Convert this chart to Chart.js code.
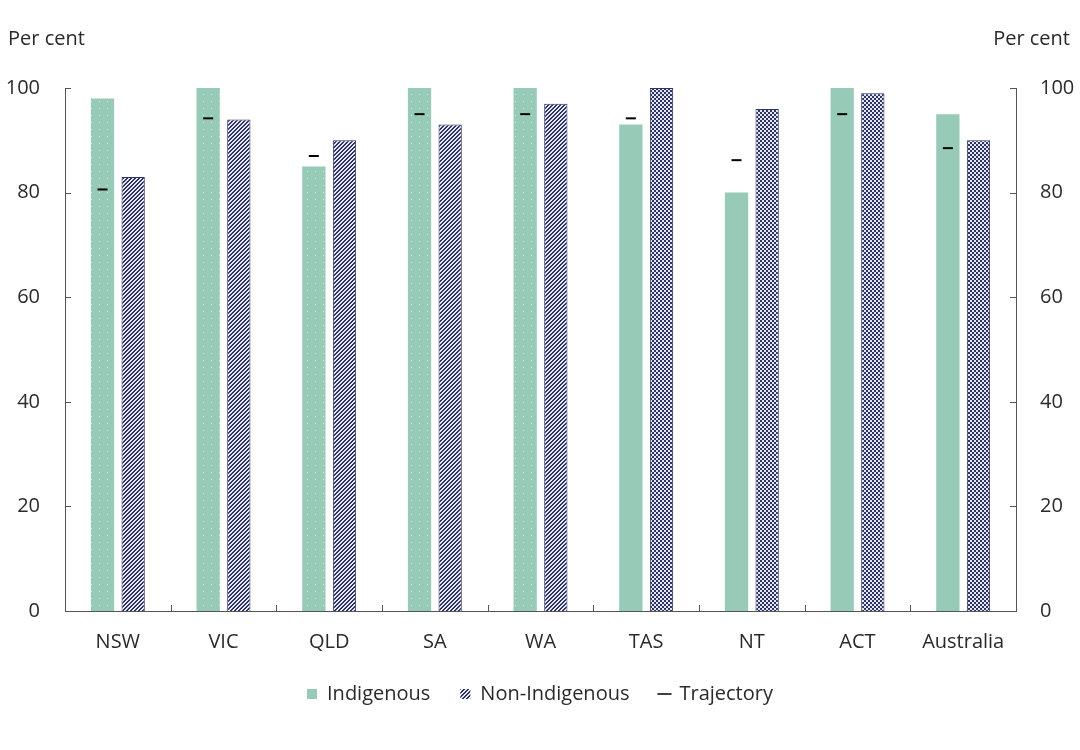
<!DOCTYPE html>
<html>
<head>
<meta charset="utf-8">
<script src="https://cdn.jsdelivr.net/npm/chart.js@4.4.1/dist/chart.umd.min.js"></script>
<style>
  html, body { margin:0; padding:0; background:#fff; }
  #wrap { position:relative; width:1080px; height:750px; }
  .unit { position:absolute; top:24px; font-family:"Open Sans", sans-serif; font-size:20px; color:#2a2a2a; }
</style>
</head>
<body>
<div id="wrap">
  <canvas id="c" width="1080" height="750"></canvas>
  <div class="unit" style="left:8px;">Per cent</div>
  <div class="unit" style="right:10px;">Per cent</div>
</div>
<script>
const categories = ['NSW','VIC','QLD','SA','WA','TAS','NT','ACT','Australia'];
const indigenous = [98, 100, 85, 100, 100, 93, 80, 100, 95];
const nonIndigenous = [83, 94, 90, 93, 97, 100, 96, 99, 90];
const trajectory = [80.6, 94.2, 87, 95, 95, 94.2, 86.2, 95, 88.5];
const yTicks = [0, 20, 40, 60, 80, 100];

const TEAL = '#97cbb7';
const NAVY = '#2f3466';
const TEXT = '#2a2a2a';
const CAT_PCT = 0.58;
const BAR_PCT = 0.76;

function makePattern(w, h, bg, fg, test) {
  const c = document.createElement('canvas');
  c.width = w; c.height = h;
  const g = c.getContext('2d');
  g.fillStyle = bg; g.fillRect(0, 0, w, h);
  g.fillStyle = fg;
  for (let x = 0; x < w; x++) for (let y = 0; y < h; y++) if (test(x, y)) g.fillRect(x, y, 1, 1);
  return g.createPattern(c, 'repeat');
}
const dots = makePattern(8, 7, TEAL, '#d6ece3', (x, y) => x === 3 && y === 3);
const hatch = makePattern(4, 4, '#e8e9f0', NAVY, (x, y) => (x + y) % 4 < 2);
const checker = makePattern(4, 4, '#e4e6ee', NAVY, (x, y) => ((x >> 1) + (y >> 1)) % 2 === 0);

const indFill = categories.map((c, i) => i < 5 ? dots : TEAL);
const nonFill = categories.map((c, i) => i < 5 ? hatch : checker);

// Put each trajectory dash on top of its Indigenous bar (positions read from the bar elements)
const alignPlugin = {
  id: 'alignTraj',
  afterDatasetsUpdate(chart) {
    const bars = chart.getDatasetMeta(0).data;
    const pts = chart.getDatasetMeta(2).data;
    pts.forEach((p, i) => { if (bars[i]) p.x = bars[i].x; });
  }
};

const tickPlugin = {
  id: 'inTicks',
  afterDraw(chart) {
    const { ctx, chartArea: a, scales } = chart;
    ctx.save();
    ctx.strokeStyle = '#555';
    ctx.lineWidth = 1;
    ctx.beginPath();
    yTicks.forEach(v => {
      const y = Math.round(scales.y.getPixelForValue(v)) + 0.5;
      ctx.moveTo(a.left, y); ctx.lineTo(a.left + 6, y);
      ctx.moveTo(a.right - 6, y); ctx.lineTo(a.right, y);
    });
    const n = categories.length;
    for (let i = 1; i < n; i++) {
      const x = Math.round(a.left + i * (a.right - a.left) / n) + 0.5;
      ctx.moveTo(x, a.bottom); ctx.lineTo(x, a.bottom - 6);
    }
    ctx.stroke();
    ctx.restore();
  }
};

const font = { family: '"Open Sans", sans-serif', size: 20 };

new Chart(document.getElementById('c'), {
  type: 'bar',
  data: {
    labels: categories,
    datasets: [
      { label: 'Indigenous', data: indigenous, backgroundColor: indFill, borderWidth: 0, order: 2,
        categoryPercentage: CAT_PCT, barPercentage: BAR_PCT, yAxisID: 'y' },
      { label: 'Non-Indigenous', data: nonIndigenous, backgroundColor: nonFill, borderColor: NAVY, borderWidth: 1, order: 2,
        categoryPercentage: CAT_PCT, barPercentage: BAR_PCT, yAxisID: 'y' },
      { type: 'line', label: 'Trajectory', data: trajectory, yAxisID: 'y', order: 0,
        pointStyle: 'line', pointRadius: 5, pointHoverRadius: 5, borderColor: '#000', backgroundColor: '#000',
        borderWidth: 2, pointBorderWidth: 2, showLine: false }
    ]
  },
  options: {
    responsive: false,
    animation: false,
    events: [],
    layout: { padding: { top: 88, left: 0, right: 0, bottom: 36 } },
    plugins: {
      tooltip: { enabled: false },
      legend: {
        position: 'bottom',
        labels: {
          font: font, color: TEXT, usePointStyle: true, boxHeight: 10, boxWidth: 10, padding: 30,
          generateLabels() {
            return [
              { text: 'Indigenous', fillStyle: TEAL, strokeStyle: TEAL, lineWidth: 0, pointStyle: 'rect', datasetIndex: 0, hidden: false, fontColor: TEXT },
              { text: 'Non-Indigenous', fillStyle: hatch, strokeStyle: NAVY, lineWidth: 0, pointStyle: 'rect', datasetIndex: 1, hidden: false, fontColor: TEXT },
              { text: 'Trajectory', fillStyle: '#000', strokeStyle: '#000', lineWidth: 1.5, pointStyle: 'line', datasetIndex: 2, hidden: false, fontColor: TEXT }
            ];
          }
        }
      }
    },
    scales: {
      x: {
        type: 'category', offset: true,
        grid: { display: false, drawTicks: false },
        border: { display: true, color: '#555', width: 1 },
        ticks: { font: font, color: TEXT, padding: 19, maxRotation: 0 },
        afterFit(s) { s.height = 43; }
      },
      y: {
        position: 'left', min: 0, max: 100,
        afterBuildTicks(s) { s.ticks = yTicks.map(v => ({ value: v })); },
        grid: { display: false, drawTicks: false },
        border: { display: true, color: '#555', width: 1 },
        ticks: { font: font, color: TEXT, padding: 25 },
        afterFit(s) { s.width = 65; }
      },
      y2: {
        position: 'right', min: 0, max: 100,
        afterBuildTicks(s) { s.ticks = yTicks.map(v => ({ value: v })); },
        grid: { display: false, drawTicks: false },
        border: { display: true, color: '#555', width: 1 },
        ticks: { font: font, color: TEXT, padding: 24 },
        afterFit(s) { s.width = 64; }
      }
    }
  },
  plugins: [alignPlugin, tickPlugin]
});
</script>
</body>
</html>
